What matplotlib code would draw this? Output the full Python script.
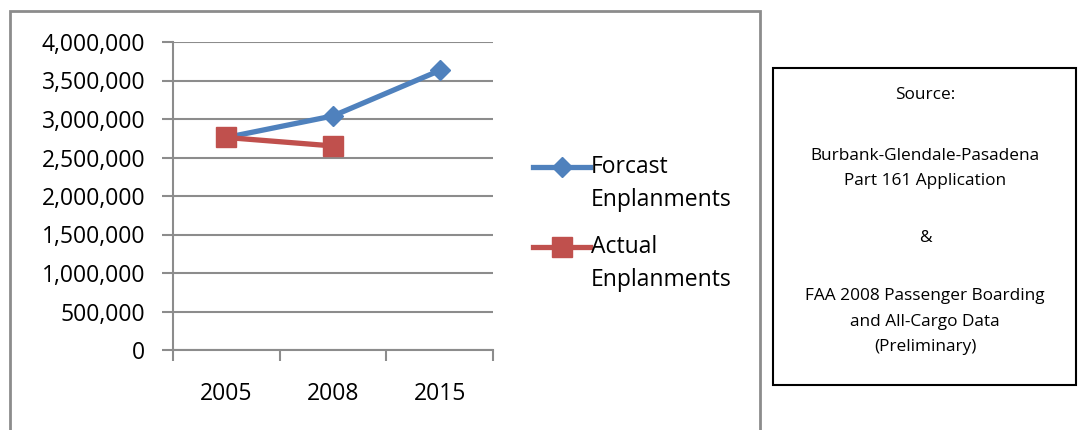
import numpy as np
import matplotlib.pyplot as plt
from matplotlib.patches import Rectangle
from matplotlib.lines import Line2D
from matplotlib.ticker import FuncFormatter

years = ['2005', '2008', '2015']
forecast = [2760000, 3040000, 3630000]
actual = [2760000, 2650000]
labels = ['Forcast\nEnplanments', 'Actual\nEnplanments']
source_lines = ['Source:', 'Burbank-Glendale-Pasadena', 'Part 161 Application',
                '&', 'FAA 2008 Passenger Boarding', 'and All-Cargo Data', '(Preliminary)']

plt.rcParams['font.family'] = ['Open Sans', 'DejaVu Sans']

W, H = 1079, 430
fig = plt.figure(figsize=(W / 100, H / 100), dpi=100)
fig.patch.set_facecolor('white')

def fx(px):
    return px / W

def fy(py):
    return 1 - py / H

# outer chart border
fig.patches.append(Rectangle((fx(10), -0.1), 750 / W, 1.1 - 11 / H, transform=fig.transFigure,
                             fill=False, edgecolor='#8c8c8c', linewidth=2))

ax = fig.add_axes([fx(173), fy(350), 320 / W, 308 / H])
blue = '#4F81BD'
red = '#C0504D'
x = np.arange(len(years))
ax.plot(x, forecast, color=blue, lw=3.8, marker='D', ms=10, zorder=3)
ax.plot(x[:len(actual)], actual, color=red, lw=3.8, marker='s', ms=14, zorder=4)

ax.set_xlim(-0.5, 2.5)
ax.set_ylim(0, 4000000)
ax.set_yticks(np.arange(0, 4000001, 500000))
ax.yaxis.set_major_formatter(FuncFormatter(lambda v, p: f'{int(v):,}'))
ax.grid(axis='y', color='#8c8c8c', lw=1.5)
ax.set_axisbelow(True)

ax.set_xticks([-0.5, 0.5, 1.5, 2.5])
ax.set_xticklabels([])
ax.set_xticks(x, minor=True)
ax.set_xticklabels(years, minor=True)
ax.tick_params(axis='x', which='minor', length=0, pad=23, labelsize=16.5)
ax.tick_params(axis='x', which='major', length=8, width=1.5, color='#8c8c8c', direction='out')
ax.tick_params(axis='y', length=8, width=1.5, color='#8c8c8c', labelsize=16.5, pad=12)

for s in ['top', 'right']:
    ax.spines[s].set_visible(False)
for s in ['left', 'bottom']:
    ax.spines[s].set_color('#8c8c8c')
    ax.spines[s].set_linewidth(1.5)

# legend, handle beside the first line of each label
for lab, col, mk, ms, ly in [(labels[0], blue, 'D', 10, 167), (labels[1], red, 's', 14, 247)]:
    fig.add_artist(Line2D([fx(533), fx(561.5), fx(590)], [fy(ly)] * 3, transform=fig.transFigure,
                          color=col, lw=3.8, marker=mk, ms=ms, markevery=[1]))
    for j, part in enumerate(lab.split('\n')):
        fig.text(fx(591), fy(ly + j * 32.5), part, ha='left', va='center', fontsize=16.5)

# source box
fig.patches.append(Rectangle((fx(773), fy(385)), 303 / W, 317 / H, transform=fig.transFigure,
                             fill=False, edgecolor='black', linewidth=1.5))
line_y = [95, 156, 181, 238, 296, 322, 347]
for line, ly in zip(source_lines, line_y):
    fig.text(fx(925), fy(ly), line, ha='center', va='center', fontsize=12.4)

fig.savefig('out.png', dpi=100)
